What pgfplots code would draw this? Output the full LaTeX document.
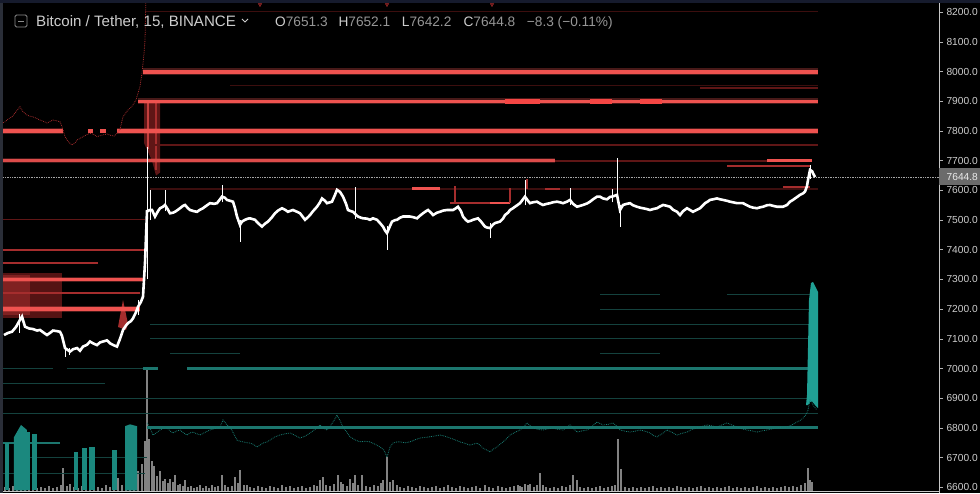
\documentclass[border=0pt]{standalone}
\usepackage{pgfplots}
\pgfplotsset{compat=1.18}
\usepackage{fontspec}
\setmainfont{Liberation Sans}
\definecolor{ask}{RGB}{239,83,80}
\definecolor{askhi}{RGB}{245,70,68}
\definecolor{askmid}{RGB}{165,45,45}
\definecolor{askdim}{RGB}{95,22,22}
\definecolor{askfaint}{RGB}{60,14,14}
\definecolor{bid}{RGB}{32,160,148}
\definecolor{bidmid}{RGB}{28,118,110}
\definecolor{biddim}{RGB}{20,66,62}
\definecolor{vol}{RGB}{130,130,130}
\definecolor{lbl}{RGB}{205,205,205}
\definecolor{ohlcv}{RGB}{150,150,150}
\definecolor{navy}{RGB}{22,27,45}
\definecolor{edge}{RGB}{42,46,56}
\pgfplotsset{ln/.style={no marks, line width=#1}}
\begin{document}
\begin{tikzpicture}[x=1pt,y=1pt]
\path[use as bounding box] (0,0) rectangle (980,493);
\fill[black] (0,0) rectangle (980,493);
% ---------------- volume ----------------
\begin{axis}[at={(0pt,0pt)}, anchor=south west, width=939pt, height=493pt, scale only axis,
  xmin=0, xmax=939, ymin=-2.3, ymax=490.7, hide axis]
\addplot[ycomb, vol, line width=2pt] coordinates {
(5,4)(9,3)(13,5)(17,3)(21,6)(25,4)(29,3)(33,5)(37,3)(41,4)(45,3)(49,5)(53,3)(57,4)(61,6)(63,23)(67,5)(70,7)(74,4)(78,3)(82,5)(86,4)(90,3)(94,5)(98,4)(102,3)(106,6)(110,4)(114,5)(118,13)(122,6)(126,8)(130,10)(134,7)(138,20)(142,27)(145,50)(147,122)(149,52)(152,30)(154,25)(157,15)(160,20)(163,10)(165,12)(168,8)(170,12)(173,9)(175,16)(178,6)(180,7)(183,5)(185,11)(188,4)(191,5)(194,3)(197,4)(200,6)(203,3)(206,5)(209,3)(212,6)(215,4)(218,5)(222,16)(225,6)(228,4)(232,5)(235,14)(238,8)(240,21)(244,6)(247,6)(250,4)(254,3)(258,5)(262,4)(266,3)(270,5)(274,4)(278,3)(282,6)(286,4)(290,5)(294,3)(298,4)(302,5)(306,3)(310,4)(314,6)(317,5)(320,11)(323,14)(326,6)(330,5)(334,7)(338,16)(341,9)(343,7)(347,5)(350,12)(353,8)(355,16)(358,6)(362,16)(366,5)(370,4)(374,6)(378,5)(381,8)(383,11)(387,34)(390,9)(393,11)(397,6)(400,4)(404,3)(408,5)(412,4)(416,3)(420,5)(424,4)(428,3)(432,4)(436,5)(440,3)(444,4)(448,6)(452,4)(456,3)(460,5)(464,4)(468,3)(472,4)(476,5)(480,3)(485,6)(489,4)(493,3)(498,5)(502,4)(506,3)(510,4)(514,5)(518,6)(520,5)(522,4)(525,7)(528,6)(530,7)(534,4)(537,6)(540,18)(543,6)(546,4)(550,3)(554,4)(558,3)(562,5)(566,4)(570,6)(573,16)(577,11)(580,4)(584,3)(588,4)(592,3)(596,4)(600,5)(604,3)(608,4)(612,5)(615,6)(618,52)(621,22)(625,4)(629,3)(633,4)(637,3)(641,4)(645,3)(649,4)(653,5)(657,3)(661,4)(665,3)(669,4)(673,3)(677,5)(681,4)(685,3)(689,4)(693,3)(697,4)(701,5)(705,3)(709,4)(713,3)(717,4)(721,3)(725,4)(729,5)(733,3)(737,4)(741,3)(745,4)(749,3)(753,4)(757,5)(761,3)(765,4)(769,3)(773,4)(777,3)(781,4)(785,5)(789,4)(793,5)(797,4)(801,6)(805,8)(808,23)(810,11)(812,9)};
\end{axis}
% ---------------- price ----------------
\begin{axis}[at={(0pt,0pt)}, anchor=south west, width=939pt, height=493pt, scale only axis,
  xmin=0, xmax=939, ymin=6580.8, ymax=8241.4,
  axis line style={draw=none}, xtick=\empty,
  ytick={6600,6700,...,8200}, ytick pos=right, yticklabel pos=right,
  tick align=outside, major tick length=4pt,
  ytick style={color=white!70!black, line width=0.6pt},
  yticklabel style={font=\fontsize{10.2}{12}\selectfont, text=lbl,
    /pgf/number format/.cd, fixed, fixed zerofill, precision=1, 1000 sep={}, assume math mode=true},
  clip mode=individual]
% --- heat blocks (asks) ---
\addplot[fill=askdim, draw=none, opacity=0.9] coordinates {(3,7322)(62,7322)(62,7170)(3,7170)} -- cycle;
\addplot[fill=askmid, draw=none, opacity=0.55] coordinates {(3,7315)(30,7315)(30,7180)(3,7180)} -- cycle;
\addplot[fill=askdim, draw=none] coordinates {(144,7904)(160,7904)(160,7660)(156,7650)(152,7700)(144,7760)} -- cycle;
\addplot[ask, ln=2, opacity=0.7] coordinates {(148,7905)(148,7740)};
\addplot[askmid, ln=2] coordinates {(156,7905)(156,7670)};
\addplot[fill=askmid, draw=none] coordinates {(118,7140)(123,7231)(128,7150)(126,7130)} -- cycle;
% --- faint/dim ask lines ---
\addplot[askfaint, ln=0.8] coordinates {(145,8204)(818,8204)};
\addplot[askfaint, ln=1] coordinates {(230,7952)(818,7952)};
\addplot[askdim, ln=1.5] coordinates {(700,7945)(818,7945)};
\addplot[askdim, ln=1.2] coordinates {(150,7753)(818,7753)};
\addplot[askfaint, ln=1.2] coordinates {(150,7605)(818,7605)};
\addplot[askdim, ln=1.4] coordinates {(3,7503)(145,7503)};
\addplot[askmid, ln=2] coordinates {(3,7400)(145,7400)};
\addplot[askmid, ln=1.5] coordinates {(3,7355)(98,7355)};
\addplot[askmid, ln=2] coordinates {(3,7255)(140,7255)};
\addplot[askmid, ln=1.5] coordinates {(727,7682)(810,7682)};
\addplot[askmid, ln=2] coordinates {(783,7611)(810,7611)};
\addplot[askmid, ln=2] coordinates {(450,7557)(510,7557)};
\addplot[ask, ln=2.5] coordinates {(490,7557)(510,7557)};
\addplot[ask, ln=3] coordinates {(412,7605)(440,7605)};
\addplot[askmid, ln=2.5] coordinates {(545,7605)(560,7605)};
\addplot[askmid, ln=1.5] coordinates {(455,7557)(455,7615)};
\addplot[askmid, ln=1.5] coordinates {(510,7557)(510,7608)};
\addplot[askmid, ln=1.5] coordinates {(527,7605)(527,7640)};
% --- strong ask walls ---
\addplot[ask, ln=7, opacity=0.3] coordinates {(143,8000)(818,8000)};
\addplot[ask, ln=4] coordinates {(143,8000)(818,8000)};
\addplot[ask, ln=6, opacity=0.3] coordinates {(138,7900)(818,7900)};
\addplot[ask, ln=3.5] coordinates {(138,7900)(818,7900)};
\addplot[askhi, ln=5] coordinates {(505,7900)(540,7900)};
\addplot[askhi, ln=5] coordinates {(590,7900)(612,7900)};
\addplot[askhi, ln=5] coordinates {(640,7900)(662,7900)};
\addplot[ask, ln=6, opacity=0.3] coordinates {(3,7800)(63,7800)};
\addplot[ask, ln=6, opacity=0.3] coordinates {(117,7800)(818,7800)};
\addplot[ask, ln=3.5] coordinates {(3,7800)(63,7800)};
\addplot[ask, ln=3.5] coordinates {(117,7800)(818,7800)};
\addplot[ask, ln=3.5] coordinates {(88,7800)(93,7800)};
\addplot[ask, ln=3.5] coordinates {(100,7800)(106,7800)};
\addplot[ask, ln=5, opacity=0.25] coordinates {(3,7700)(555,7700)};
\addplot[ask!92!black, ln=2.8] coordinates {(3,7700)(555,7700)};
\addplot[askdim, ln=2] coordinates {(555,7700)(767,7700)};
\addplot[ask, ln=2.5] coordinates {(767,7700)(812,7700)};
\addplot[ask, ln=5, opacity=0.3] coordinates {(3,7300)(145,7300)};
\addplot[ask, ln=3] coordinates {(3,7300)(145,7300)};
\addplot[ask, ln=6, opacity=0.3] coordinates {(3,7200)(140,7200)};
\addplot[ask, ln=3.5] coordinates {(3,7200)(140,7200)};
% --- bid lines ---
\addplot[biddim, ln=1] coordinates {(3,7000)(53,7000)};
\addplot[biddim, ln=1] coordinates {(67,7000)(147,7000)};
\addplot[bidmid, ln=2.5] coordinates {(143,7000)(158,7000)};
\addplot[bidmid, ln=2.5] coordinates {(187,7000)(818,7000)};
\addplot[bidmid, ln=3] coordinates {(147,6800)(818,6800)};
\addplot[biddim, ln=1] coordinates {(3,6850)(818,6850)};
\addplot[biddim, ln=1] coordinates {(3,6900)(818,6900)};
\addplot[biddim, ln=1] coordinates {(3,6950)(105,6950)};
\addplot[bidmid, ln=1.5] coordinates {(3,6749)(60,6749)};
\addplot[biddim, ln=1] coordinates {(15,6700)(147,6700)};
\addplot[biddim, ln=1] coordinates {(3,6648)(145,6648)};
\addplot[biddim, ln=1] coordinates {(170,7050)(240,7050)};
\addplot[biddim, ln=1] coordinates {(600,7050)(660,7050)};
\addplot[biddim, ln=1] coordinates {(150,7100)(818,7100)};
\addplot[biddim, ln=0.8] coordinates {(150,7150)(818,7150)};
\addplot[biddim, ln=0.8] coordinates {(600,7200)(818,7200)};
\addplot[biddim, ln=0.8] coordinates {(600,7250)(660,7250)};
\addplot[biddim, ln=0.8] coordinates {(727,7250)(810,7250)};
% --- bid blocks ---
\addplot[fill=bid!85!black, draw=none] coordinates {(5,6590)(5,6749)(9,6749)(9,6590)} -- cycle;
\addplot[fill=bid!85!black, draw=none] coordinates {(14,6590)(14,6769)(21,6810)(27,6793)(27,6590)} -- cycle;
\addplot[fill=bid!85!black, draw=none] coordinates {(27,6590)(27,6786)(30,6786)(30,6590)} -- cycle;
\addplot[fill=bid!85!black, draw=none] coordinates {(32,6590)(32,6779)(37,6779)(37,6590)} -- cycle;
\addplot[fill=bid!85!black, draw=none] coordinates {(74,6590)(74,6719)(78,6719)(78,6590)} -- cycle;
\addplot[fill=bid!85!black, draw=none] coordinates {(82,6590)(82,6732)(87,6732)(87,6590)} -- cycle;
\addplot[fill=bid!85!black, draw=none] coordinates {(89,6590)(89,6736)(95,6736)(95,6590)} -- cycle;
\addplot[fill=bid!85!black, draw=none] coordinates {(112,6590)(112,6726)(117,6726)(117,6590)} -- cycle;
\addplot[fill=bid!85!black, draw=none] coordinates {(125,6590)(125,6806)(130,6812)(137,6806)(137,6590)} -- cycle;
\addplot[fill=bid, draw=none] coordinates {(806,6877)(807,6911)(809,7231)(811,7288)(813,7292)(815,7278)(817,7265)(818,7258)(818,6867)(815,6877)(812,6890)(810,6887)(808,6877)} -- cycle;
% --- band indicator (dotted) ---
\addplot[askmid, densely dotted, line width=0.8pt] coordinates {
(3,7828)(5,7831)(8,7840)(12,7848)(16,7865)(20,7882)(23,7865)(27,7854)(30,7850)(33,7848)(37,7842)(40,7837)(44,7832)(47,7827)(50,7832)(53,7837)(57,7834)(60,7831)(62,7815)(65,7781)(68,7765)(72,7753)(75,7760)(77,7770)(80,7775)(83,7781)(87,7788)(90,7792)(93,7790)(97,7781)(100,7784)(103,7787)(107,7790)(110,7786)(114,7783)(117,7792)(120,7805)(123,7848)(126,7862)(128,7871)(131,7880)(133,7888)(136,7905)(138,7927)(140,7950)(142,7995)(144,8060)(145,8107)(146,8260)};
\addplot[bid!80!black, densely dotted, line width=0.8pt] coordinates {
(147,6817)(150,6800)(153,6776)(157,6785)(160,6793)(163,6798)(167,6800)(170,6790)(173,6783)(177,6790)(180,6793)(183,6785)(187,6776)(190,6783)(193,6786)(197,6780)(200,6776)(205,6785)(210,6793)(215,6798)(220,6803)(223,6827)(227,6810)(230,6803)(233,6785)(237,6759)(240,6755)(243,6753)(247,6750)(250,6749)(253,6745)(257,6736)(260,6742)(263,6749)(267,6753)(270,6759)(275,6770)(280,6776)(285,6780)(290,6783)(295,6775)(300,6766)(305,6772)(310,6783)(315,6795)(320,6810)(323,6800)(327,6793)(330,6805)(334,6825)(337,6843)(340,6825)(343,6803)(347,6785)(350,6770)(355,6760)(360,6753)(365,6755)(370,6753)(375,6745)(380,6736)(384,6725)(387,6702)(390,6735)(393,6749)(397,6753)(400,6753)(405,6750)(410,6753)(415,6760)(420,6766)(425,6768)(430,6770)(435,6773)(440,6776)(445,6772)(450,6766)(455,6760)(460,6753)(465,6748)(470,6742)(473,6745)(477,6749)(480,6742)(483,6732)(487,6725)(490,6719)(493,6728)(497,6736)(500,6745)(503,6753)(507,6765)(510,6776)(515,6785)(520,6793)(524,6805)(527,6817)(530,6808)(533,6800)(538,6795)(543,6793)(548,6797)(553,6800)(558,6795)(563,6793)(567,6802)(570,6810)(573,6800)(577,6786)(582,6790)(587,6793)(592,6805)(597,6820)(600,6815)(603,6810)(608,6812)(613,6817)(617,6805)(620,6793)(625,6789)(630,6786)(635,6789)(640,6793)(645,6789)(650,6783)(653,6775)(657,6770)(662,6780)(667,6793)(672,6785)(677,6776)(682,6782)(687,6786)(692,6795)(697,6800)(702,6805)(707,6810)(712,6807)(717,6803)(722,6810)(727,6817)(732,6810)(737,6803)(742,6797)(747,6793)(752,6790)(757,6786)(762,6790)(767,6793)(772,6797)(777,6800)(782,6802)(787,6803)(792,6810)(797,6820)(800,6825)(803,6833)(806,6845)(808,6860)(810,6894)(812,6885)(813,6877)(815,6868)(817,6860)};
% --- current price line ---
\addplot[white!65!black, densely dotted, line width=0.7pt] coordinates {(0,7644.8)(939,7644.8)};
% --- candles: wicks ---
\addplot[white, line width=1pt, unbounded coords=jump] coordinates {
(20,7120)(20,7185)(20,nan)(66,7040)(66,7075)(66,nan)(70,7045)(70,7070)(70,nan)(138,7180)(138,7230)(138,nan)
(147,7300)(147,7747)(147,nan)(150,7500)(150,7602)(150,nan)(165,7530)(165,7602)(165,nan)(222,7560)(222,7618)(222,nan)
(240,7427)(240,7500)(240,nan)(355,7505)(355,7612)(355,nan)(387,7400)(387,7480)(387,nan)(490,7440)(490,7490)(490,nan)
(525,7550)(525,7635)(525,nan)(570,7550)(570,7608)(570,nan)(612,7560)(612,7605)(612,nan)(617,7560)(617,7709)(617,nan)
(620,7478)(620,7550)(620,nan)(810,7640)(810,7686)};
% --- candles: bodies (close path) ---
\addplot[white, line width=2.6pt, line join=miter] coordinates {
(4,7113)(8,7120)(12,7124)(16,7140)(20,7164)(22,7175)(25,7141)(29,7135)(33,7133)(37,7128)(40,7130)(44,7120)(47,7113)(50,7120)(53,7128)(57,7126)(60,7124)(62,7110)(65,7069)(68,7062)(70,7057)(73,7065)(77,7069)(80,7060)(83,7074)(87,7080)(90,7091)(93,7085)(97,7079)(100,7088)(103,7091)(107,7095)(110,7085)(114,7078)(117,7074)(120,7100)(123,7130)(126,7145)(128,7153)(131,7160)(133,7169)(136,7190)(138,7208)(141,7225)(143,7242)(145,7356)(147,7530)
(150,7534)(152,7534)(155,7512)(158,7530)(160,7540)(163,7545)(165,7551)(168,7535)(170,7523)(173,7525)(175,7528)(178,7535)(180,7540)(183,7548)(185,7551)(188,7540)(190,7534)(194,7530)(197,7528)(200,7535)(203,7540)(207,7550)(210,7557)(214,7555)(217,7557)(220,7570)(222,7579)(225,7575)(227,7568)(230,7565)(233,7562)(235,7540)(237,7512)(240,7484)(242,7495)(245,7501)(248,7505)(250,7506)(253,7503)(255,7501)(258,7490)(262,7478)(265,7488)(268,7495)(272,7510)(275,7523)(278,7532)(282,7540)(285,7535)(288,7528)(291,7532)(293,7534)(297,7528)(300,7523)(303,7510)(305,7501)(308,7510)(310,7517)(313,7530)(317,7545)(320,7560)(322,7573)(325,7565)(327,7557)(330,7560)(332,7562)(335,7585)(337,7602)(340,7595)(343,7579)(346,7555)(348,7534)(351,7530)(353,7528)(356,7518)(358,7512)(361,7508)(363,7506)(367,7505)(370,7501)
(373,7506)(377,7501)(380,7490)(383,7478)(385,7465)(387,7456)(390,7480)(392,7495)(395,7500)(397,7501)(400,7508)(403,7512)(407,7512)(410,7512)(413,7510)(417,7506)(420,7515)(423,7523)(426,7530)(428,7534)(431,7525)(433,7517)(437,7525)(440,7528)(443,7532)(447,7534)(450,7534)(453,7534)(456,7540)(458,7545)(461,7530)(463,7512)(466,7500)(468,7495)(471,7498)(473,7501)(476,7504)(478,7506)(481,7495)(485,7478)(487,7475)(490,7473)(493,7485)(495,7490)(498,7493)(500,7495)(503,7505)(505,7517)(508,7525)(510,7534)(513,7540)(515,7545)(518,7552)(520,7557)(523,7570)(525,7579)(528,7565)(530,7557)(533,7560)(537,7562)(540,7556)(543,7551)(547,7555)(550,7557)(553,7560)(557,7562)(560,7560)(563,7557)(567,7562)(570,7568)(573,7555)(577,7545)(580,7548)(583,7551)(587,7556)(590,7562)(593,7570)(597,7579)(600,7579)(603,7573)(607,7570)(610,7578)(613,7580)(617,7585)(620,7534)(623,7551)(627,7555)(630,7557)(633,7550)(637,7545)(640,7542)(643,7540)(647,7537)(650,7534)(653,7537)(657,7540)(660,7546)(663,7551)(667,7548)(670,7545)(673,7535)(677,7528)(680,7517)(683,7530)(687,7540)(690,7534)(693,7528)(697,7535)(700,7540)(703,7550)(705,7557)(708,7563)(710,7568)(713,7570)(717,7573)(720,7570)(723,7568)(727,7565)(730,7562)(733,7560)(737,7557)(740,7557)(743,7557)(747,7550)(750,7545)(753,7542)(757,7540)(760,7543)(763,7545)(767,7550)(770,7551)(773,7548)(777,7545)(780,7545)(783,7545)(787,7551)(790,7562)(793,7568)(795,7573)(798,7580)(800,7585)(803,7590)(805,7596)(807,7615)(808,7635)(810,7669)(812,7665)(813,7658)(815,7645)};
% --- top markers ---
\addplot[only marks, mark=triangle*, mark size=2pt, mark options={rotate=180, fill=askdim, draw=askmid}] coordinates {(260,8226)(387,8226)(492,8226)};
% --- frame ---
\draw[white!78!black, line width=0.8pt] (axis cs:939,6580.8) -- (axis cs:939,8241.4);
\draw[white!78!black, line width=0.8pt] (axis cs:0,6587.5) -- (axis cs:939,6587.5);
\end{axis}
% ---------------- decorations & texts ----------------
\fill[navy] (0,490) rectangle (980,493);
\fill[edge] (0,0) rectangle (3,490);
\fill[white!42!black] (939,308) rectangle (980,325);
\node[anchor=west, inner sep=0, text=white!92!black, font=\fontsize{10.2}{12}\selectfont] at (946.5,316.5) {7644.8};
\draw[white!55!black, line width=0.9pt, rounded corners=1.5pt] (15,466) rectangle (27,478);
\draw[white!55!black, line width=0.9pt] (18,472) -- (24,472);
\node[anchor=base west, inner sep=0, text=lbl, font=\fontsize{15.1}{18}\selectfont] at (36,466.5) {Bitcoin / Tether, 15, BINANCE};
\draw[lbl, line width=0.8pt] (242,474) -- (245,471) -- (248,474);
\begin{scope}[every node/.style={anchor=base west, inner sep=0, font=\fontsize{13.7}{16}\selectfont}]
\node at (275,466.5) {\textcolor{lbl}{O}\textcolor{ohlcv}{7651.3}};
\node at (338.3,466.5) {\textcolor{lbl}{H}\textcolor{ohlcv}{7652.1}};
\node at (401.7,466.5) {\textcolor{lbl}{L}\textcolor{ohlcv}{7642.2}};
\node at (463.3,466.5) {\textcolor{lbl}{C}\textcolor{ohlcv}{7644.8}};
\node at (526.7,466.5) {\textcolor{ohlcv}{−8.3 (−0.11\%)}};
\end{scope}
\end{tikzpicture}
\end{document}
